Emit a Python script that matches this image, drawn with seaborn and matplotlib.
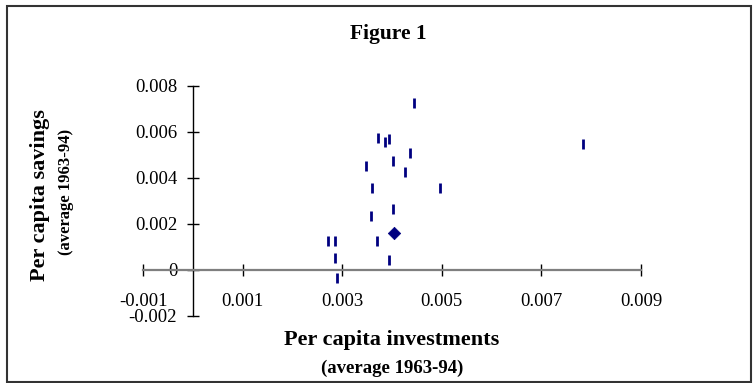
import matplotlib
matplotlib.use("Agg")
import matplotlib.pyplot as plt
import seaborn as sns
import pandas as pd
from matplotlib.patches import Rectangle

# per capita investments / savings (average 1963-94)
invest = [0.00444, 0.00372, 0.00385, 0.00393, 0.00436, 0.00403, 0.00348, 0.00426,
          0.00359, 0.00497, 0.00403, 0.00357, 0.00271, 0.00285, 0.00370, 0.00285,
          0.00394, 0.00289, 0.00783]
savings = [0.00728, 0.00576, 0.00558, 0.00568, 0.00510, 0.00473, 0.00452, 0.00426,
           0.00357, 0.00357, 0.00264, 0.00235, 0.00128, 0.00128, 0.00128, 0.00054,
           0.00043, -0.00033, 0.00548]
# highlighted point (diamond)
hl_invest = [0.00404]
hl_savings = [0.00160]

xticks = [-0.001, 0.001, 0.003, 0.005, 0.007, 0.009]
yticks = [-0.002, 0, 0.002, 0.004, 0.006, 0.008]
xlabels = ["-0.001", "0.001", "0.003", "0.005", "0.007", "0.009"]
ylabels = ["-0.002", "0", "0.002", "0.004", "0.006", "0.008"]

sns.set_style("white")
plt.rcParams['font.family'] = ['Liberation Serif', 'DejaVu Serif']
plt.rcParams['text.color'] = 'black'
plt.rcParams['xtick.color'] = 'black'
plt.rcParams['ytick.color'] = 'black'

df = pd.DataFrame({'inv': invest, 'sav': savings})
df_hl = pd.DataFrame({'inv': hl_invest, 'sav': hl_savings})

fig = plt.figure(figsize=(7.53, 3.83), dpi=100)
ax = fig.add_axes([143/753, 1-316/383, 498/753, 230/383])

navy = '#000080'
sns.scatterplot(data=df, x='inv', y='sav', marker='|', s=45, color=navy,
                linewidth=2, ax=ax, zorder=4)
sns.scatterplot(data=df_hl, x='inv', y='sav', marker='D', s=40, color=navy,
                edgecolor=navy, ax=ax, zorder=4)

ax.set_xlim(-0.001, 0.009)
ax.set_ylim(-0.002, 0.008)
ax.set_xticks(xticks)
ax.set_xticklabels(xlabels)
ax.set_yticks(yticks)
ax.set_yticklabels(ylabels)
ax.set_xlabel('')
ax.set_ylabel('')

ax.spines['top'].set_visible(False)
ax.spines['right'].set_visible(False)
ax.spines['left'].set_position(('data', 0))
ax.spines['bottom'].set_position(('data', 0))
ax.spines['left'].set_color('black')
ax.spines['left'].set_linewidth(1.0)
ax.spines['bottom'].set_color('#7f7f7f')
ax.spines['bottom'].set_linewidth(1.6)

ax.tick_params(axis='x', bottom=True, direction='inout', length=8.5, width=1,
               color='black', labelcolor='black', labelsize=13.5, pad=12)
ax.tick_params(axis='y', left=True, direction='inout', length=8.5, width=1,
               color='black', labelcolor='black', labelsize=13.5, pad=7)
ax.patch.set_alpha(0)

fig.text(388/753, 1-34/383, 'Figure 1', ha='center', va='center',
         fontsize=15.5, fontweight='bold')
fig.text(392/753, 1-340/383, 'Per capita investments', ha='center', va='center',
         fontsize=16, fontweight='bold')
fig.text(392/753, 1-368/383, '(average 1963-94)', ha='center', va='center',
         fontsize=13.5, fontweight='bold')
fig.text(40/753, 1-195/383, 'Per capita savings', ha='center', va='center',
         rotation=90, fontsize=16, fontweight='bold')
fig.text(66/753, 1-192/383, '(average 1963-94)', ha='center', va='center',
         rotation=90, fontsize=12, fontweight='bold')

fig.patches.append(Rectangle((7/753, 1.5/383), 744/753, 375.5/383,
                             transform=fig.transFigure, fill=False,
                             edgecolor='#333333', linewidth=1.5))

fig.savefig('out.png', dpi=100)
